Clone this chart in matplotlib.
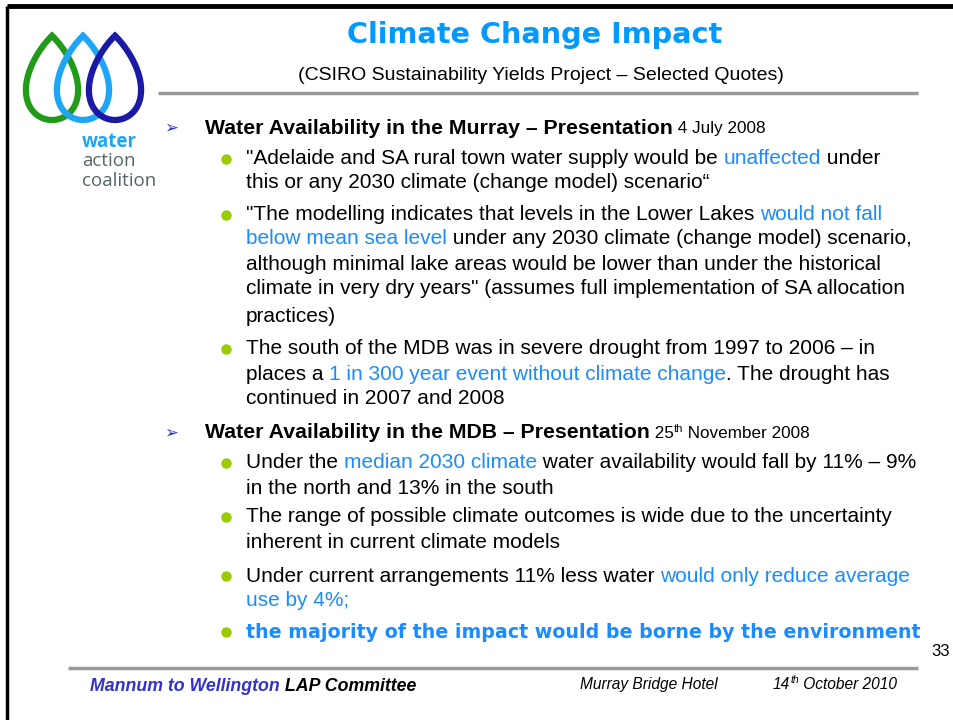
import numpy as np
import matplotlib
matplotlib.use("Agg")
import matplotlib.pyplot as plt

W, H = 954, 720
FONT = ["Liberation Sans", "DejaVu Sans"]
WIDE = ["DejaVu Sans"]
BLUE = "#1a8cff"
TITLE_BLUE = "#0099ff"
BLACK = "#000000"
BULLET_GREEN = "#99cc00"
ARROW_BLUE = "#3333cc"

title = "Climate Change Impact"
subtitle = "(CSIRO Sustainability Yields Project \u2013 Selected Quotes)"

heading1 = [("Water Availability in the Murray \u2013 Presentation", "h"), (" 4 July 2008", "d")]
heading2 = [("Water Availability in the MDB \u2013 Presentation", "h"), (" 25", "d"), ("th", "sup"), (" November 2008", "d")]

# each bullet: list of lines; each line: list of (text, style)
bullets1 = [
    [[("\"Adelaide and SA rural town water supply would be ", "k"), ("unaffected", "b"), (" under", "k")],
     [("this or any 2030 climate (change model) scenario\u201c", "k")]],
    [[("\"The modelling indicates that levels in the Lower Lakes ", "k"), ("would not fall", "b")],
     [("below mean sea level", "b"), (" under any 2030 climate (change model) scenario,", "k")],
     [("although minimal lake areas would be lower than under the historical", "k")],
     [("climate in very dry years\" (assumes full implementation of SA allocation", "k")],
     [("practices)", "k")]],
    [[("The south of the MDB was in severe drought from 1997 to 2006 \u2013 in", "k")],
     [("places a ", "k"), ("1 in 300 year event without climate change", "b"), (". The drought has", "k")],
     [("continued in 2007 and 2008", "k")]],
]
bullets2 = [
    [[("Under the ", "k"), ("median 2030 climate", "b"), (" water availability would fall by 11% \u2013 9%", "k")],
     [("in the north and 13% in the south", "k")]],
    [[("The range of possible climate outcomes is wide due to the uncertainty", "k")],
     [("inherent in current climate models", "k")]],
    [[("Under current arrangements 11% less water ", "k"), ("would only reduce average", "b")],
     [("use by 4%;", "b")]],
    [[("the majority of the impact would be borne by the environment", "bb")]],
]
# line centre positions (pixels from top)
h1_y = 127
b1_ys = [[158, 181], [214, 238, 263, 288, 316], [348, 373, 398]]
h2_y = 432
b2_ys = [[462, 487], [516, 541], [575, 599], [631]]

logo_lines = ["water", "action", "coalition"]
footer_left = [("Mannum to Wellington", "fb"), (" LAP Committee", "fk")]
footer_mid = "Murray Bridge Hotel"
footer_date = [("14", "fi"), ("th", "fsup"), (" October 2010", "fi")]
page_no = "33"

STYLES = {
    "k": dict(color=BLACK, fontsize=15, fontweight="normal"),
    "b": dict(color=BLUE, fontsize=15, fontweight="normal"),
    "bb": dict(color=BLUE, fontsize=13.7, fontweight="bold", family=WIDE),
    "h": dict(color=BLACK, fontsize=15.3, fontweight="bold"),
    "d": dict(color=BLACK, fontsize=12.3, fontweight="normal"),
    "sup": dict(color=BLACK, fontsize=8, fontweight="normal", dy=-7),
    "fb": dict(color="#3333cc", fontsize=12.8, fontweight="bold", fontstyle="italic"),
    "fk": dict(color=BLACK, fontsize=12.8, fontweight="bold", fontstyle="italic"),
    "fi": dict(color=BLACK, fontsize=11.2, fontweight="normal", fontstyle="italic"),
    "fsup": dict(color=BLACK, fontsize=7.5, fontweight="normal", fontstyle="italic", dy=-6),
}

fig = plt.figure(figsize=(W / 100, H / 100), dpi=100)
ax = fig.add_axes([0, 0, 1, 1])
ax.set_xlim(0, W)
ax.set_ylim(H, 0)
ax.axis("off")
renderer = fig.canvas.get_renderer()


def draw_line(x, ybase, segs):
    for txt, st in segs:
        s = dict(STYLES[st])
        dy = s.pop("dy", 0)
        fam = s.pop("family", FONT)
        t = ax.text(x, ybase + dy, txt, family=fam, va="baseline", ha="left", **s)
        bb = t.get_window_extent(renderer)
        x += bb.width
    return x


# frame
ax.plot([7, W], [6, 6], color="black", lw=3.5, solid_capstyle="butt")
ax.plot([7, 7], [6, H], color="black", lw=2.5, solid_capstyle="butt")

# logo droplets
t = np.linspace(0, 2 * np.pi, 300)
for cx, col in [(52, "#239b1a"), (83, "#1ea5f5"), (115, "#1a1aa6")]:
    xs = cx + 32.5 * np.sin(t) * np.abs(np.sin(t / 2)) ** 0.8
    ys = 78 - 42 * np.cos(t)
    ax.plot(xs, ys, color=col, lw=4.5, solid_joinstyle="round")
LOGO_FONT = ["Open Sans", "DejaVu Sans"]
for txt, yb, col, fw in zip(logo_lines, [147, 166, 186],
                            ["#1ea5f5", "#556666", "#556666"], ["bold", "normal", "normal"]):
    ax.text(82, yb, txt, family=LOGO_FONT, fontsize=13.5, fontweight=fw,
            color=col, va="baseline")

# title
ax.text(535, 35, title, family=WIDE, fontsize=20.7, fontweight="bold", color=TITLE_BLUE,
        ha="center", va="center")
ax.text(541, 75, subtitle, family=FONT, fontsize=14, color=BLACK, ha="center", va="center")
ax.plot([158, 918], [93, 93], color="#999999", lw=2.5, solid_capstyle="butt")

BASE = 6.5


def draw_heading(y, segs):
    ax.text(171, y + 1, "\u27a2", family=["DejaVu Sans"], fontsize=12, color=ARROW_BLUE,
            ha="center", va="center")
    draw_line(205, y + BASE, segs)


def draw_bullets(blist, ylist):
    for lines, ys in zip(blist, ylist):
        ax.plot([226], [ys[0] + 1], marker="o", ms=6.5, color=BULLET_GREEN, mec=BULLET_GREEN)
        for segs, y in zip(lines, ys):
            draw_line(246, y + BASE, segs)


draw_heading(h1_y, heading1)
draw_bullets(bullets1, b1_ys)
draw_heading(h2_y, heading2)
draw_bullets(bullets2, b2_ys)

# footer
ax.text(931, 652, page_no, family=FONT, fontsize=12, color=BLACK, ha="left", va="center")
ax.plot([68, 918], [668, 668], color="#999999", lw=2.5, solid_capstyle="butt")
draw_line(90, 691, footer_left)
ax.text(580, 689, footer_mid, family=FONT, fontsize=11.2, fontstyle="italic",
        color=BLACK, va="baseline")
draw_line(773, 689, footer_date)

fig.savefig("out.png", dpi=100)
